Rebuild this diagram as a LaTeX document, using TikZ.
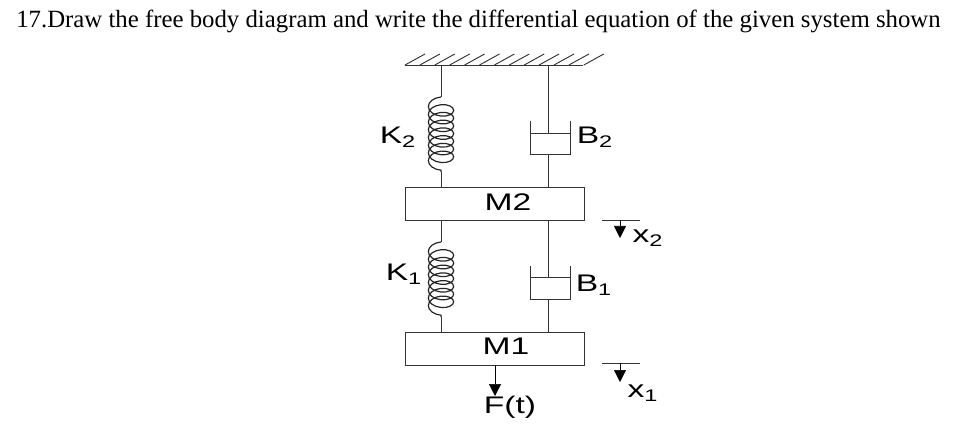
\documentclass[tikz,border=0pt]{standalone}
\usepackage{fontspec}
\setmainfont{Liberation Serif}
\newfontfamily\labelfont{Liberation Sans}
\usetikzlibrary{positioning, arrows.meta, calc, decorations.pathmorphing}
\newcommand{\widelabel}[1]{\scalebox{1.4}[1]{#1}}
\tikzset{
x=0.75pt, y=-0.75pt,
>=Stealth,
line width=1pt, % thin lines of the sketch
mass/.style={draw=black!80, rectangle, minimum width=134.5pt, minimum height=24.5pt, inner sep=0pt},
lab/.style={inner sep=0pt, text=black, font=\labelfont\fontsize{18}{18}\selectfont},
line/.style={draw=black!80},
springy/.style={draw=black!85, decorate, decoration={coil, mirror, aspect=0.6, segment length=5.8pt, amplitude=9.5pt}, line width=0.9pt},
force/.style={draw=black, -{Stealth[length=9pt, width=9pt, inset=0pt]}},
}

\begin{document}
\begin{tikzpicture}
\useasboundingbox (0,0) rectangle (966,438);
\node[anchor=base west, inner sep=0pt, font=\fontsize{18.6}{20}\selectfont] (title) at (16,28) {17.Draw the free body diagram and write the differential equation of the given system shown};

% masses
\node[mass] (m2) at (494.5,203.5) {};
\node[mass] (m1) at (494.5,348.5) {};
\node[lab] (m2text) at (508,202) {\widelabel{M2}};
\node[lab] (m1text) at (506,346) {\widelabel{M1}};

% wall
\coordinate (wl) at (405,65);
\coordinate (wr) at (583,65);
\draw[line] (wl) -- (wr);
\foreach \i in {0,...,12}
  \draw[line, line width=0.7pt] ($(wl)+(\i*14.9,0)$) -- ++(20,-11);

% upper spring
\coordinate (s2a) at (441,65);
\coordinate (s2b) at (441,97);
\coordinate (s2c) at (441,172);
\coordinate (s2d) at (441,187);
\draw[line] (s2a) -- (s2b) (s2c) -- (s2d);
\draw[springy] (s2b) -- (s2c);

% upper damper
\coordinate (d2a) at (548,65);
\coordinate (d2b) at (548,133);
\coordinate (d2c) at (548,154);
\coordinate (d2d) at (548,187);
\draw[line] (d2a) -- (d2b) (d2c) -- (d2d);
\draw[line] (530,121) -- (530,154) -- (570,154) -- (570,121);
\draw[line] (530,133) -- (570,133);

% lower spring
\coordinate (s1a) at (441,220);
\coordinate (s1b) at (441,242);
\coordinate (s1c) at (441,317);
\coordinate (s1d) at (441,332);
\draw[line] (s1a) -- (s1b) (s1c) -- (s1d);
\draw[springy] (s1b) -- (s1c);

% lower damper
\coordinate (d1a) at (548,220);
\coordinate (d1b) at (548,277);
\coordinate (d1c) at (548,299);
\coordinate (d1d) at (548,332);
\draw[line] (d1a) -- (d1b) (d1c) -- (d1d);
\draw[line] (530,266) -- (530,299) -- (570,299) -- (570,266);
\draw[line] (530,277) -- (570,277);

% labels
\node[lab] (k2) at (398,137) {\widelabel{K\textsubscript{2}}};
\node[lab] (b2) at (595,137) {\widelabel{B\textsubscript{2}}};
\node[lab] (k1) at (404,274) {\widelabel{K\textsubscript{1}}};
\node[lab] (b1) at (594,285) {\widelabel{B\textsubscript{1}}};

% force
\node[lab] (ft) at (510,407) {\widelabel{F(t)}};
\coordinate (fa) at (495,365);
\coordinate (fb) at (495,396);
\draw[force] (fa) -- (fb);

% displacement marks
\coordinate (x2l) at (602,220);
\coordinate (x2r) at (640,220);
\coordinate (x2m) at (620,220);
\coordinate (x2e) at (620,238);
\draw[line] (x2l) -- (x2r);
\draw[force] (x2m) -- (x2e);
\node[lab] (x2) at (648,238) {\widelabel{x\textsubscript{2}}};
\coordinate (x1l) at (602,363);
\coordinate (x1r) at (640,363);
\coordinate (x1m) at (620,363);
\coordinate (x1e) at (620,382);
\draw[line] (x1l) -- (x1r);
\draw[force] (x1m) -- (x1e);
\node[lab] (x1) at (643,393) {\widelabel{x\textsubscript{1}}};
\end{tikzpicture}
\end{document}
